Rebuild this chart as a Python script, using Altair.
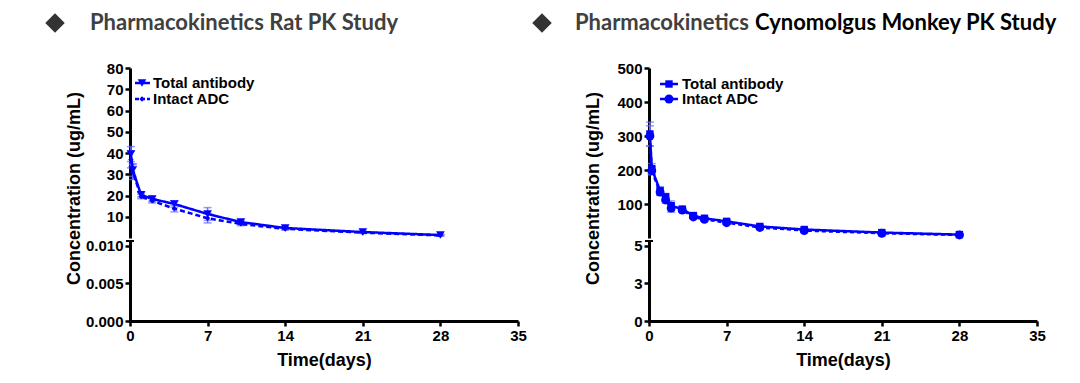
import altair as alt
import pandas as pd

# ---------------- data ----------------
series_names = ["Total antibody", "Intact ADC"]

rat_time = [0.083, 0.25, 1, 2, 4, 7, 10, 14, 21, 28]
rat_total = [39.5, 32.0, 20.3, 18.4, 16.0, 11.3, 7.5, 4.7, 2.8, 1.4]
rat_total_sd = [3.5, 3.0, 1.0, 1.2, 1.5, 3.0, 1.0, 0.8, 0.5, 0.4]
rat_intact = [37.0, 31.0, 19.5, 17.5, 13.8, 9.3, 6.6, 4.3, 2.5, 1.2]
rat_intact_sd = [4.0, 3.5, 1.0, 1.0, 1.5, 2.2, 0.8, 0.6, 0.4, 0.3]

monkey_time = [0.083, 0.25, 1, 1.5, 2, 3, 4, 5, 7, 10, 14, 21, 28]
monkey_total = [306, 204, 139, 121, 95, 85, 66, 58, 49, 34, 25, 16, 10]
monkey_total_sd = [35, 15, 12, 10, 14, 6, 5, 4, 5, 3, 2, 3, 2]
monkey_intact = [300, 198, 135, 112, 88, 82, 62, 55, 45, 31, 22, 14, 9]
monkey_intact_sd = [30, 12, 10, 10, 12, 5, 4, 4, 4, 3, 2, 2, 1]

x_ticks = [0, 7, 14, 21, 28, 35]
rat_upper_ticks = [10, 20, 30, 40, 50, 60, 70, 80]
rat_lower_ticks = [0, 0.005, 0.010]
monkey_upper_ticks = [100, 200, 300, 400, 500]
monkey_lower_ticks = [0, 2.5, 5]

BLUE = "#0000ff"
ERR = "#6a6aff"
FONT = "Liberation Sans"
TITLE_Y = -45


def frame(time, total, total_sd, intact, intact_sd):
    rows = []
    for s, vals, sds in [(series_names[0], total, total_sd), (series_names[1], intact, intact_sd)]:
        for t, v, sd in zip(time, vals, sds):
            rows.append({"time": t, "conc": v, "lo": v - sd, "hi": v + sd, "series": s})
    return pd.DataFrame(rows)


def panel(df, upper_dom, upper_ticks, lower_dom, lower_ticks, lower_fmt,
          shapes, sizes, dashes, title_layers, leg):
    xs = alt.Scale(domain=[0, 35], nice=False, zero=False)
    ys = alt.Scale(domain=upper_dom, nice=False, zero=False)
    yax = alt.Axis(values=upper_ticks, title="Concentration (ug/mL)",
                   titleX=-47, titleY=120, titleAngle=270, titleBaseline="bottom")
    xn = alt.X("time:Q", scale=xs, axis=None)
    base = alt.Chart(df)
    err = base.mark_rule(color=ERR, strokeWidth=1.5).encode(
        x=xn, y=alt.Y("lo:Q", scale=ys, axis=yax), y2="hi:Q")
    cap_hi = base.mark_tick(orient="horizontal", size=8, thickness=1.5, color=ERR).encode(
        x=xn, y=alt.Y("hi:Q", scale=ys, axis=yax))
    cap_lo = base.mark_tick(orient="horizontal", size=8, thickness=1.5, color=ERR).encode(
        x=xn, y=alt.Y("lo:Q", scale=ys, axis=yax))
    line = base.mark_line(color=BLUE, strokeWidth=2.5).encode(
        x=xn, y=alt.Y("conc:Q", scale=ys, axis=yax),
        strokeDash=alt.StrokeDash("series:N", scale=alt.Scale(domain=series_names, range=dashes), legend=None))
    pts = base.mark_point(filled=True, color=BLUE, opacity=1).encode(
        x=xn, y=alt.Y("conc:Q", scale=ys, axis=yax),
        shape=alt.Shape("series:N", scale=alt.Scale(domain=series_names, range=shapes), legend=None),
        size=alt.Size("series:N", scale=alt.Scale(domain=series_names, range=sizes), legend=None))

    layers = [err, cap_hi, cap_lo, line, pts]
    # legend drawn by hand
    for i, name in enumerate(series_names):
        one = alt.Chart(pd.DataFrame({"label": [name]}))
        ly = leg["y"][i]
        layers.append(one.mark_rule(color=BLUE, strokeWidth=2.5, strokeDash=leg["dash"][i]).encode(
            x=alt.value(leg["x0"]), x2=alt.value(leg["x1"]), y=alt.value(ly)))
        layers.append(one.mark_point(filled=True, color=BLUE, opacity=1, shape=shapes[i], size=sizes[i]).encode(
            x=alt.value(leg["xm"]), y=alt.value(ly)))
        layers.append(one.mark_text(align="left", baseline="middle", font=FONT, fontWeight="bold",
                                    fontSize=15, color="black").encode(
            x=alt.value(leg["xt"]), y=alt.value(ly), text="label:N"))
    layers += title_layers
    upper = alt.layer(*layers).properties(width=388, height=170)

    ys2 = alt.Scale(domain=lower_dom, nice=False, zero=False)
    lower_pts = base.mark_point(opacity=0, clip=True).encode(
        x=alt.X("time:Q", scale=xs,
                axis=alt.Axis(values=x_ticks, title="Time(days)", labelFlush=False, titlePadding=8)),
        y=alt.Y("conc:Q", scale=ys2, axis=alt.Axis(values=lower_ticks, format=lower_fmt, title=None)))
    cap = alt.Chart(pd.DataFrame({"label": ["cap"]})).mark_rule(color="black", strokeWidth=2).encode(
        x=alt.value(-4), x2=alt.value(4), y=alt.value(0))
    lower = alt.layer(lower_pts, cap).properties(width=388, height=80)
    return alt.vconcat(upper, lower, spacing=3, bounds="flush")


def title_text(parts):
    out = []
    one = alt.Chart(pd.DataFrame({"label": ["◆"]}))
    out.append(one.mark_point(shape="diamond", filled=True, size=380, color="#333333", opacity=1).encode(
        x=alt.value(parts["dx"]), y=alt.value(TITLE_Y)))
    for txt, x, color, size in parts["texts"]:
        out.append(alt.Chart(pd.DataFrame({"label": [txt]})).mark_text(
            align="left", baseline="middle", font="Lato", fontWeight="bold", fontSize=size, color=color).encode(
            x=alt.value(x), y=alt.value(TITLE_Y), text="label:N"))
    return out


rat_df = frame(rat_time, rat_total, rat_total_sd, rat_intact, rat_intact_sd)
monkey_df = frame(monkey_time, monkey_total, monkey_total_sd, monkey_intact, monkey_intact_sd)

left = panel(
    rat_df, [0, 80], rat_upper_ticks, [0, 0.0106], rat_lower_ticks, ".3f",
    ["triangle-down", "diamond"], [75, 28], [[1, 0], [5, 3]],
    title_text({"dx": -75, "texts": [("Pharmacokinetics Rat PK Study", -40, "#404040", 22)]}),
    {"y": [15, 31], "x0": 5, "x1": 20, "xm": 12, "xt": 23, "dash": [[1, 0], [4, 2]]},
)
right = panel(
    monkey_df, [0, 500], monkey_upper_ticks, [0, 5.3], monkey_lower_ticks, ".0f",
    ["square", "circle"], [55, 80], [[1, 0], [4, 3]],
    title_text({"dx": -107, "texts": [("Pharmacokinetics", -74, "#404040", 22),
                                      ("Cynomolgus Monkey PK Study", 106, "black", 22)]}),
    {"y": [16, 31], "x0": 11, "x1": 29, "xm": 20, "xt": 33, "dash": [[1, 0], [1, 0]]},
)

chart = alt.hconcat(left, right, spacing=5).resolve_scale(
    shape="independent", size="independent", strokeDash="independent"
).properties(
    padding={"left": 37, "top": 4, "right": 5, "bottom": 5}
).configure_view(stroke=None).configure_axis(
    grid=False, domainColor="black", domainWidth=3, tickColor="black", tickWidth=2.5, tickSize=5,
    labelFont=FONT, labelFontWeight="bold", labelFontSize=15, labelColor="black", labelPadding=2,
    titleFont=FONT, titleFontWeight="bold", titleFontSize=18, titleColor="black",
)

chart.save("out.html", embed_options={"renderer": "svg", "actions": False})
